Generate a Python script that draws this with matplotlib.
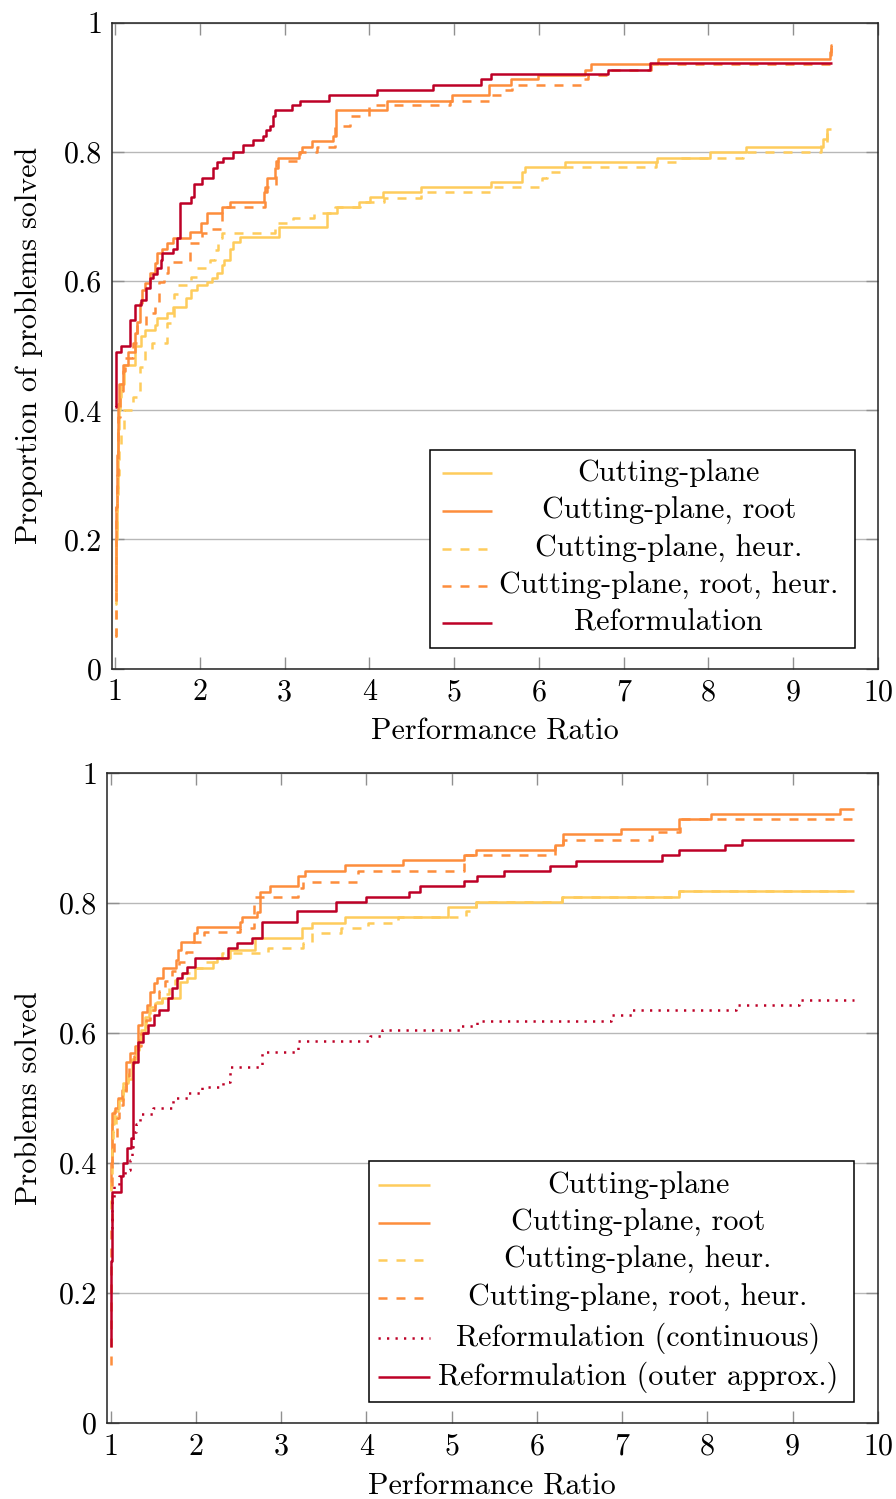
import matplotlib
matplotlib.use("Agg")
import matplotlib.pyplot as plt
from matplotlib.lines import Line2D
from matplotlib.patches import Rectangle

plt.rcParams['font.family'] = ['cmr10', 'DejaVu Serif']
plt.rcParams['mathtext.fontset'] = 'cm'
plt.rcParams['axes.formatter.use_mathtext'] = True

# ---------------- data: top panel ----------------
top_cp_x = [1.0, 1.01, 1.02, 1.03, 1.04, 1.05, 1.06, 1.07, 1.11, 1.23, 1.31, 1.35, 1.47, 1.50, 1.61, 1.68,
            1.84, 1.90, 1.97, 2.09, 2.14, 2.20, 2.26, 2.29, 2.35, 2.39, 2.47, 2.93, 3.50, 3.62, 3.88, 4.01,
            4.16, 4.61, 5.43, 5.80, 5.84, 6.31, 7.39, 8.02, 8.44, 9.35, 9.40, 9.45]
top_cp_y = [0.10, 0.20, 0.28, 0.33, 0.37, 0.40, 0.42, 0.44, 0.47, 0.50, 0.514, 0.524, 0.532, 0.542, 0.55, 0.56,
            0.573, 0.586, 0.593, 0.598, 0.604, 0.612, 0.625, 0.632, 0.65, 0.66, 0.668, 0.683, 0.705, 0.714, 0.722, 0.73,
            0.737, 0.745, 0.753, 0.768, 0.777, 0.784, 0.791, 0.799, 0.808, 0.82, 0.835, 0.835]

top_cpr_x = [1.0, 1.01, 1.02, 1.03, 1.04, 1.05, 1.09, 1.15, 1.23, 1.26, 1.29, 1.32, 1.35, 1.41, 1.47, 1.50,
             1.55, 1.61, 1.68, 1.88, 2.01, 2.09, 2.26, 2.35, 2.76, 2.79, 2.89, 2.92, 3.17, 3.21, 3.32, 3.57, 3.61,
             4.21, 4.98, 5.41, 5.67, 5.99, 6.54, 6.61, 7.40, 9.43, 9.45, 9.46]
top_cpr_y = [0.12, 0.25, 0.33, 0.38, 0.41, 0.44, 0.47, 0.49, 0.52, 0.536, 0.566, 0.586, 0.596, 0.612, 0.627, 0.643,
             0.65, 0.658, 0.666, 0.675, 0.69, 0.705, 0.714, 0.722, 0.737, 0.76, 0.774, 0.791, 0.80, 0.808, 0.816, 0.825, 0.864,
             0.879, 0.887, 0.904, 0.912, 0.919, 0.927, 0.935, 0.944, 0.955, 0.965, 0.965]

top_cph_x = [1.0, 1.005, 1.01, 1.02, 1.03, 1.05, 1.07, 1.10, 1.21, 1.29, 1.35, 1.44, 1.61, 1.70, 1.74, 1.90, 1.97,
             2.12, 2.18, 2.21, 2.26, 2.89, 3.10, 3.35, 3.60, 3.89, 4.17, 4.61, 5.42, 6.04, 6.10, 6.30, 7.38, 7.65,
             8.41, 9.33, 9.40, 9.45]
top_cph_y = [0.05, 0.12, 0.20, 0.26, 0.30, 0.34, 0.37, 0.40, 0.42, 0.467, 0.493, 0.504, 0.535, 0.58, 0.593, 0.606, 0.62,
             0.632, 0.648, 0.666, 0.674, 0.69, 0.698, 0.705, 0.714, 0.722, 0.728, 0.737, 0.745, 0.76, 0.769, 0.776, 0.784, 0.791,
             0.80, 0.81, 0.83, 0.83]

top_cprh_x = [1.0, 1.005, 1.01, 1.02, 1.03, 1.04, 1.06, 1.09, 1.12, 1.21, 1.26, 1.37, 1.47, 1.52, 1.58, 1.62, 1.88,
              2.02, 2.14, 2.26, 2.77, 2.90, 3.18, 3.38, 3.60, 3.77, 3.99, 4.95, 5.42, 5.56, 5.68, 6.52, 6.58, 6.80,
              7.32, 9.43, 9.45, 9.46]
top_cprh_y = [0.05, 0.15, 0.25, 0.30, 0.35, 0.39, 0.43, 0.46, 0.48, 0.504, 0.532, 0.55, 0.566, 0.598, 0.612, 0.629, 0.658,
              0.674, 0.68, 0.714, 0.745, 0.785, 0.80, 0.808, 0.84, 0.856, 0.872, 0.879, 0.887, 0.895, 0.904, 0.912, 0.919, 0.927,
              0.935, 0.95, 0.96, 0.96]

top_ref_x = [1.0, 1.01, 1.07, 1.18, 1.24, 1.31, 1.37, 1.41, 1.45, 1.50, 1.54, 1.55, 1.68, 1.73, 1.77, 1.90, 1.93,
             2.03, 2.15, 2.20, 2.27, 2.39, 2.51, 2.63, 2.74, 2.78, 2.83, 2.86, 2.89, 3.09, 3.18, 3.52, 4.09, 4.75,
             5.32, 5.44, 6.82, 7.31, 9.46]
top_ref_y = [0.405, 0.49, 0.50, 0.54, 0.563, 0.57, 0.589, 0.604, 0.61, 0.62, 0.632, 0.643, 0.65, 0.666, 0.72, 0.73, 0.75,
             0.76, 0.774, 0.784, 0.79, 0.80, 0.81, 0.818, 0.825, 0.833, 0.84, 0.856, 0.864, 0.873, 0.879, 0.887, 0.895, 0.904,
             0.912, 0.92, 0.927, 0.937, 0.937]

# ---------------- data: bottom panel ----------------
bot_cp_x = [1.0, 1.01, 1.02, 1.04, 1.09, 1.14, 1.20, 1.25, 1.30, 1.33, 1.36, 1.40, 1.45, 1.52, 1.60, 1.81, 1.89,
            1.99, 2.20, 2.25, 2.40, 2.69, 3.24, 3.36, 3.75, 4.96, 5.28, 6.29, 7.67, 9.72]
bot_cp_y = [0.40, 0.42, 0.46, 0.48, 0.497, 0.523, 0.53, 0.56, 0.574, 0.59, 0.605, 0.625, 0.64, 0.646, 0.654, 0.679, 0.685,
            0.70, 0.709, 0.715, 0.728, 0.746, 0.761, 0.769, 0.779, 0.794, 0.802, 0.81, 0.818, 0.818]

bot_cpr_x = [1.0, 1.005, 1.01, 1.02, 1.05, 1.09, 1.13, 1.18, 1.23, 1.29, 1.32, 1.37, 1.43, 1.46, 1.51, 1.54, 1.61,
             1.77, 1.79, 1.83, 1.98, 2.01, 2.52, 2.54, 2.72, 2.75, 2.87, 3.20, 3.28, 3.75, 4.43, 5.14, 5.28, 6.21,
             6.31, 6.98, 7.67, 8.04, 9.56, 9.72]
bot_cpr_y = [0.36, 0.40, 0.44, 0.477, 0.485, 0.50, 0.512, 0.555, 0.57, 0.58, 0.612, 0.632, 0.643, 0.663, 0.677, 0.685, 0.70,
             0.712, 0.728, 0.74, 0.754, 0.763, 0.771, 0.778, 0.786, 0.817, 0.826, 0.842, 0.85, 0.858, 0.866, 0.874, 0.882, 0.89,
             0.906, 0.914, 0.929, 0.937, 0.945, 0.945]

bot_cph_x = [1.0, 1.005, 1.01, 1.03, 1.06, 1.10, 1.15, 1.20, 1.26, 1.31, 1.36, 1.41, 1.46, 1.52, 1.60, 1.68, 1.75,
             1.85, 1.95, 2.08, 2.30, 2.85, 3.26, 3.36, 3.70, 4.02, 4.37, 5.17, 5.29, 6.29, 7.67, 9.72]
bot_cph_y = [0.33, 0.38, 0.42, 0.45, 0.48, 0.50, 0.52, 0.54, 0.56, 0.58, 0.60, 0.62, 0.635, 0.648, 0.66, 0.672, 0.682,
             0.692, 0.70, 0.709, 0.723, 0.731, 0.738, 0.754, 0.762, 0.77, 0.778, 0.787, 0.802, 0.81, 0.818, 0.818]

bot_cprh_x = [1.0, 1.003, 1.006, 1.01, 1.02, 1.04, 1.07, 1.10, 1.14, 1.18, 1.22, 1.27, 1.32, 1.36, 1.41, 1.46, 1.52,
              1.57, 1.64, 1.72, 1.80, 1.88, 1.96, 2.10, 2.52, 2.68, 3.20, 3.26, 3.90, 5.14, 6.21, 6.31, 7.35, 7.68,
              9.70, 9.72]
bot_cprh_y = [0.09, 0.20, 0.30, 0.37, 0.41, 0.44, 0.47, 0.49, 0.51, 0.53, 0.55, 0.565, 0.58, 0.60, 0.62, 0.635, 0.65,
              0.665, 0.68, 0.695, 0.71, 0.725, 0.74, 0.756, 0.762, 0.81, 0.823, 0.833, 0.849, 0.874, 0.889, 0.897, 0.91, 0.929,
              0.937, 0.937]

bot_rc_x = [1.0, 1.01, 1.04, 1.10, 1.17, 1.23, 1.25, 1.26, 1.30, 1.34, 1.36, 1.50, 1.73, 1.91, 2.07, 2.32, 2.40,
            2.78, 3.20, 4.04, 4.18, 5.10, 5.30, 6.87, 7.12, 8.34, 9.07, 9.72]
bot_rc_y = [0.30, 0.345, 0.365, 0.38, 0.39, 0.405, 0.425, 0.448, 0.46, 0.469, 0.476, 0.484, 0.50, 0.508, 0.517, 0.525, 0.548,
            0.571, 0.588, 0.596, 0.604, 0.611, 0.619, 0.628, 0.635, 0.643, 0.651, 0.651]

bot_ro_x = [1.0, 1.003, 1.01, 1.02, 1.12, 1.15, 1.19, 1.24, 1.26, 1.32, 1.38, 1.44, 1.51, 1.57, 1.67, 1.72, 1.78,
            1.84, 1.90, 1.99, 2.38, 2.48, 2.66, 2.77, 3.19, 3.64, 4.00, 4.50, 4.63, 5.14, 5.30, 5.61, 6.15, 6.46,
            7.47, 7.66, 8.20, 8.40, 9.72]
bot_ro_y = [0.117, 0.25, 0.333, 0.355, 0.38, 0.40, 0.423, 0.438, 0.555, 0.586, 0.60, 0.612, 0.628, 0.635, 0.654, 0.669, 0.685,
            0.692, 0.702, 0.715, 0.731, 0.738, 0.746, 0.771, 0.787, 0.802, 0.809, 0.817, 0.826, 0.834, 0.842, 0.849, 0.857, 0.865,
            0.874, 0.882, 0.889, 0.897, 0.897]

top_labels = ['Cutting-plane', 'Cutting-plane, root', 'Cutting-plane, heur.',
              'Cutting-plane, root, heur.', 'Reformulation']
bot_labels = ['Cutting-plane', 'Cutting-plane, root', 'Cutting-plane, heur.',
              'Cutting-plane, root, heur.', 'Reformulation (continuous)', 'Reformulation (outer approx.)']
x_ticks = [1, 2, 3, 4, 5, 6, 7, 8, 9, 10]
y_ticks = [0, 0.2, 0.4, 0.6, 0.8, 1]
y_ticklabels = ['0', '0.2', '0.4', '0.6', '0.8', '1']

# ---------------- styling ----------------
YEL = '#FECC5C'
ORA = '#FD8D3C'
RED = '#BD0026'
LW = 1.8
DASH = (0, (3.6, 3.6))
DOT = (0, (0.9, 2.5))
FS = 21.7

st_cp = dict(color=YEL, ls='-')
st_cpr = dict(color=ORA, ls='-')
st_cph = dict(color=YEL, ls=DASH)
st_cprh = dict(color=ORA, ls=DASH)
st_rc = dict(color=RED, ls=DOT)
st_ro = dict(color=RED, ls='-')

fig = plt.figure(figsize=(8.96, 14.99), dpi=100)
ax1 = fig.add_axes([111.7 / 896, 1 - 668.5 / 1499, 766.3 / 896, 646 / 1499])
ax2 = fig.add_axes([106.7 / 896, 1 - 1423 / 1499, 771.3 / 896, 650 / 1499])


def style_axes(ax, xmin, ylabel, ylab_x):
    ax.set_xlim(xmin, 10)
    ax.set_ylim(0, 1)
    ax.set_xticks(x_ticks)
    ax.set_xticklabels([str(t) for t in x_ticks])
    ax.set_yticks(y_ticks)
    ax.set_yticklabels(y_ticklabels)
    ax.yaxis.grid(True, color='#b8b8b8', lw=1.0)
    ax.set_axisbelow(True)
    ax.tick_params(direction='in', length=8.5, width=1.0, color='#909090',
                   top=True, right=True, labelsize=FS, pad=7)
    for s in ax.spines.values():
        s.set_linewidth(1.1)
        s.set_color('#222222')
    ax.set_xlabel('Performance Ratio', fontsize=FS)
    ax.xaxis.set_label_coords(0.5, -0.076)
    ax.set_ylabel(ylabel, fontsize=FS)
    ax.yaxis.set_label_coords(ylab_x, 0.5)


def draw(ax, x, y, st):
    ax.step(x, y, where='post', lw=LW, dash_capstyle='butt', solid_capstyle='butt', **st)


def manual_legend(ax, labels, styles, box, rows, hx, tx):
    x0, y0, x1, y1 = box
    ax.add_patch(Rectangle((x0, y0), x1 - x0, y1 - y0, transform=ax.transAxes,
                           facecolor='white', edgecolor='black', lw=1.1, zorder=10, clip_on=False))
    for lab, st, yy in zip(labels, styles, rows):
        ax.add_line(Line2D([hx[0], hx[1]], [yy, yy], transform=ax.transAxes, lw=LW,
                           dash_capstyle='butt', solid_capstyle='butt', zorder=11, clip_on=False, **st))
        ax.text(tx, yy, lab, transform=ax.transAxes, ha='center', va='center',
                fontsize=FS, zorder=12)


# top panel
style_axes(ax1, 0.96, 'Proportion of problems solved', -0.09)
draw(ax1, top_cp_x, top_cp_y, st_cp)
draw(ax1, top_cpr_x, top_cpr_y, st_cpr)
draw(ax1, top_cph_x, top_cph_y, st_cph)
draw(ax1, top_cprh_x, top_cprh_y, st_cprh)
draw(ax1, top_ref_x, top_ref_y, st_ro)
manual_legend(ax1, top_labels, [st_cp, st_cpr, st_cph, st_cprh, st_ro],
              (0.4154, 0.0317, 0.970, 0.338),
              [0.3026, 0.2438, 0.185, 0.1277, 0.0704],
              (0.431, 0.496), 0.727)

# bottom panel
style_axes(ax2, 0.953, 'Problems solved', -0.083)
draw(ax2, bot_cp_x, bot_cp_y, st_cp)
draw(ax2, bot_cpr_x, bot_cpr_y, st_cpr)
draw(ax2, bot_cph_x, bot_cph_y, st_cph)
draw(ax2, bot_cprh_x, bot_cprh_y, st_cprh)
draw(ax2, bot_rc_x, bot_rc_y, st_rc)
draw(ax2, bot_ro_x, bot_ro_y, st_ro)
manual_legend(ax2, bot_labels, [st_cp, st_cpr, st_cph, st_cprh, st_rc, st_ro],
              (0.340, 0.0323, 0.969, 0.403),
              [0.366, 0.308, 0.251, 0.192, 0.131, 0.071],
              (0.352, 0.419), 0.689)

fig.savefig('out.png', dpi=100)
